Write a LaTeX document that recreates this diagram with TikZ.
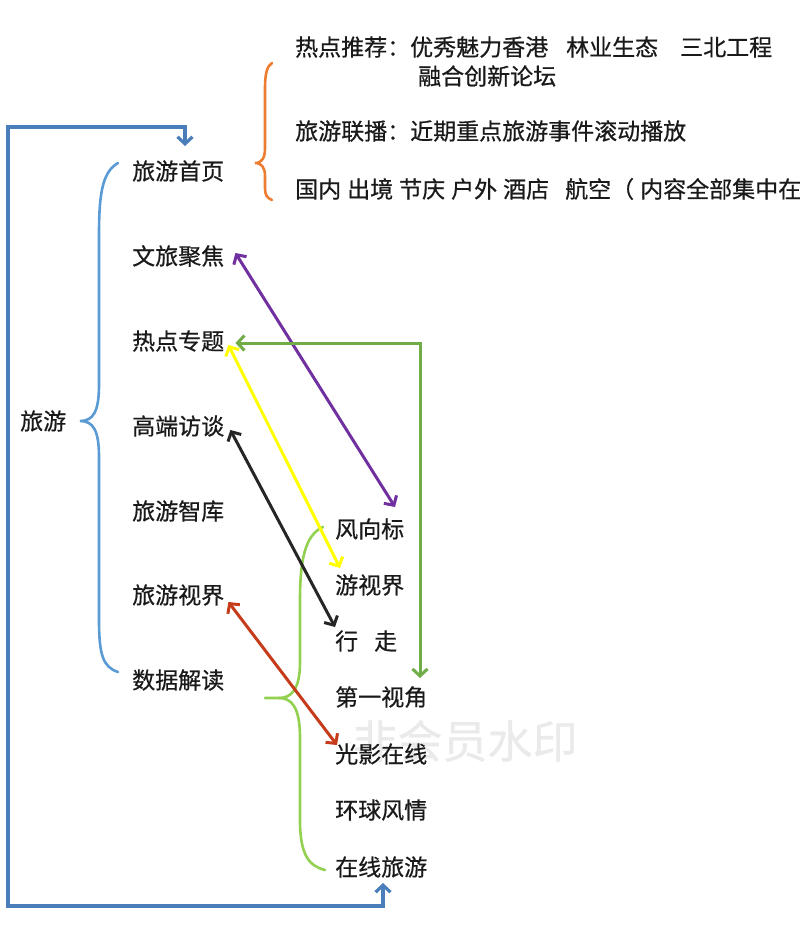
\documentclass[tikz,border=0pt]{standalone}
\usepackage{fontspec}
\setmainfont{Noto Sans CJK SC}[UprightFeatures={FakeBold=0.6}]
\usetikzlibrary{arrows.meta}
\definecolor{txt}{HTML}{1A1A1A}
\definecolor{loopblue}{HTML}{4A7EBB}
\definecolor{braceblue}{HTML}{5B9BD5}
\definecolor{braceorange}{HTML}{ED7D31}
\definecolor{bracegreen}{HTML}{92D050}
\definecolor{apurple}{HTML}{7030A0}
\definecolor{agreen}{HTML}{70AD47}
\definecolor{ayellow}{HTML}{FFFF00}
\definecolor{ablack}{HTML}{262626}
\definecolor{ared}{HTML}{C63C1A}
\definecolor{wmgray}{HTML}{EAEAEA}
\begin{document}
\begin{tikzpicture}[x=1pt,y=-1pt,
  lbl/.style={anchor=west, inner sep=0pt, text=txt, font=\fontsize{23}{27}\selectfont},
  wm/.style={inner sep=0pt, text=wmgray, font=\fontsize{45}{50}\selectfont},
  tipb/.tip={Straight Barb[length=7pt,width=15pt,line width=3pt]},
  dbl/.style={line width=3pt, tipb-tipb},
  bracestyle/.style={line width=2.6pt, line cap=round},
  loopline/.style={line width=3.4pt, color=loopblue,
    {Straight Barb[length=7pt,width=15pt,line width=3.2pt]}-{Straight Barb[length=7pt,width=15pt,line width=3.2pt]}}
]
\useasboundingbox (0,0) rectangle (800,951);

% watermark
\node[wm] (wmark) at (465,741) {非会员水印};

% root
\node[lbl] (ly) at (20,421) {旅游};

% left column
\node[lbl] (n1) at (132,171) {旅游首页};
\node[lbl] (n2) at (132,256) {文旅聚焦};
\node[lbl] (n3) at (132,341) {热点专题};
\node[lbl] (n4) at (132,426) {高端访谈};
\node[lbl] (n5) at (132,511) {旅游智库};
\node[lbl] (n6) at (132,595) {旅游视界};
\node[lbl] (n7) at (132,680) {数据解读};

% right column
\node[lbl] (r1) at (335,529) {风向标};
\node[lbl] (r2) at (335,585) {游视界};
\node[lbl] (r3) at (335,641) {行\hspace{16pt}走};
\node[lbl] (r4) at (335,697) {第一视角};
\node[lbl] (r5) at (335,754) {光影在线};
\node[lbl] (r6) at (335,810) {环球风情};
\node[lbl] (r7) at (335,867) {在线旅游};

% top texts
\node[lbl] (t1) at (295,47) {热点推荐：优秀魅力香港\hspace{18pt}林业生态\hspace{22pt}三北工程};
\node[lbl] (t1b) at (418,76) {融合创新论坛};
\node[lbl] (t2) at (295,131) {旅游联播：近期重点旅游事件滚动播放};
\node[lbl] (t3) at (295,189) {国内\hspace{6pt}出境\hspace{6pt}节庆\hspace{6pt}户外\hspace{6pt}酒店\hspace{16pt}航空（\hspace{6pt}内容全部集中在};

% braces
\draw[bracestyle, braceblue] (118,163) .. controls (102,172) and (99,195) .. (99,235)
  -- (99,385) .. controls (99,412) and (93,421) .. (80,421)
  .. controls (93,421) and (99,430) .. (99,457)
  -- (99,620) .. controls (99,655) and (103,667) .. (118,672);
\draw[bracestyle, braceorange] (272,63) .. controls (267,66) and (265,74) .. (265,88)
  -- (265,148) .. controls (265,158) and (262,163) .. (255,163)
  .. controls (262,163) and (265,168) .. (265,176)
  -- (265,188) .. controls (265,195) and (267,198) .. (272,200);
\draw[bracestyle, bracegreen] (323,527) .. controls (305,535) and (300,560) .. (300,600)
  -- (300,662) .. controls (300,690) and (291,698) .. (279,698) -- (265,698);
\draw[bracestyle, bracegreen] (279,698) .. controls (291,698) and (300,706) .. (300,738)
  -- (300,820) .. controls (300,855) and (309,866) .. (325,870);

% blue loop
\coordinate (tl) at (8,127);
\coordinate (bl) at (8,906);
\draw[loopline] ([xshift=53pt,yshift=25pt]n1.west) |- (tl) -- (bl) -| ([xshift=48pt,yshift=-16pt]r7.west);

% coloured double arrows
\draw[dbl, apurple] ([xshift=11pt,yshift=3pt]n2.east) -- ([xshift=60pt,yshift=22pt]r1.west);
\draw[dbl, agreen] ([xshift=11pt,yshift=-2pt]n3.east) -| ([xshift=85pt,yshift=19pt]r4.west);
\draw[dbl, ayellow] ([xshift=4pt,yshift=-4pt]n3.east) -- ([xshift=5pt,yshift=17pt]r2.west);
\draw[dbl, ablack] ([xshift=6pt,yshift=-4pt]n4.east) -- ([xshift=0pt,yshift=14pt]r3.west);
\draw[dbl, ared] ([xshift=4pt,yshift=-7pt]n6.east) -- ([xshift=2pt,yshift=9pt]r5.west);

\end{tikzpicture}
\end{document}
